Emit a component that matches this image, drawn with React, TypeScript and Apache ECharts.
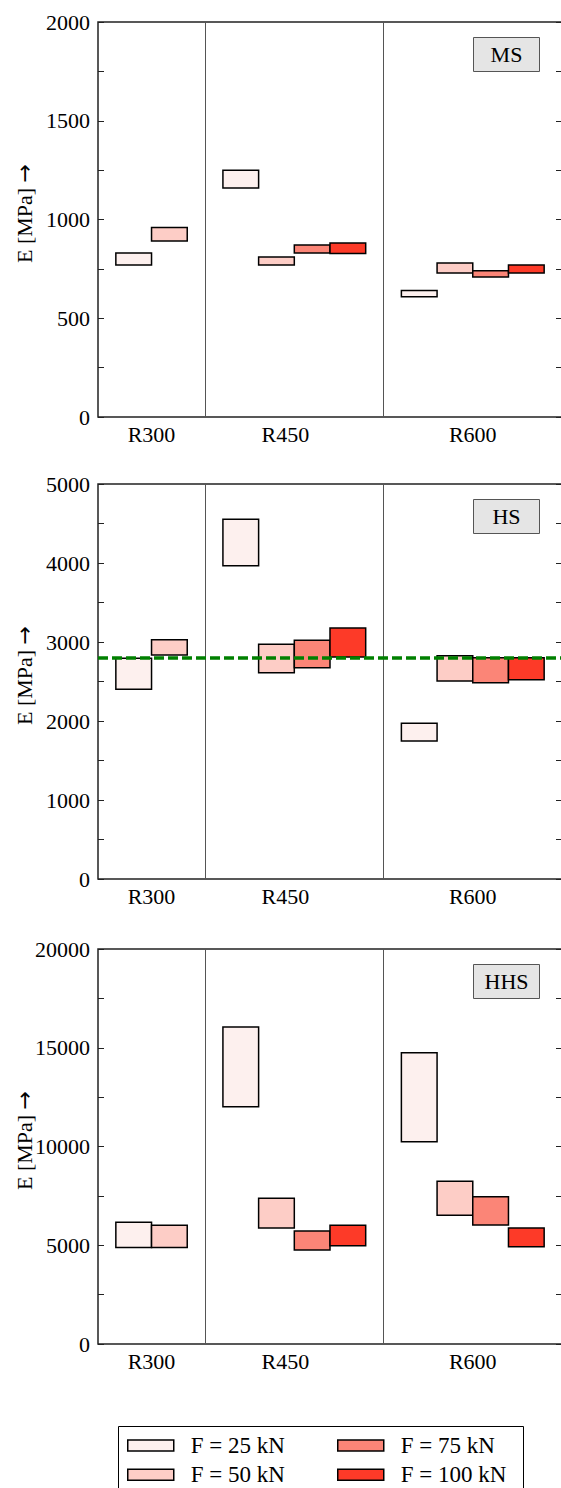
import React, { useEffect, useRef } from 'react';
import * as echarts from 'echarts';

// ---------- data ----------
const categories = ['R300', 'R450', 'R600'];
const forceLabels = ['F = 25 kN', 'F = 50 kN', 'F = 75 kN', 'F = 100 kN'];
const panelNames = ['MS', 'HS', 'HHS'];
const yAxisTitle = 'E [MPa]';
const yMaxValues = [2000, 5000, 20000];
const yLabelSteps = [500, 1000, 5000];
const hsReference = 2800;

// MS (low / high per category R300, R450, R600)
const msLow25 = [770, 1160, 609];
const msHigh25 = [830, 1250, 641];
const msLow50 = [891, 770, 729];
const msHigh50 = [960, 810, 780];
const msLow75 = [null, 830, 709];
const msHigh75 = [null, 871, 741];
const msLow100 = [null, 828, 729];
const msHigh100 = [null, 881, 770];

// HS
const hsLow25 = [2401, 3966, 1747];
const hsHigh25 = [2793, 4553, 1971];
const hsLow50 = [2835, 2612, 2506];
const hsHigh50 = [3029, 2971, 2827];
const hsLow75 = [null, 2675, 2485];
const hsHigh75 = [null, 3021, 2802];
const hsLow100 = [null, 2810, 2523];
const hsHigh100 = [null, 3177, 2802];

// HHS
const hhsLow25 = [4880, 12015, 10243];
const hhsHigh25 = [6161, 16050, 14750];
const hhsLow50 = [4880, 5873, 6515];
const hhsHigh50 = [6009, 7375, 8237];
const hhsLow75 = [null, 4759, 6025];
const hhsHigh75 = [null, 5721, 7459];
const hhsLow100 = [null, 4978, 4927];
const hhsHigh100 = [null, 6009, 5873];

const panelLows = [
  [msLow25, msLow50, msLow75, msLow100],
  [hsLow25, hsLow50, hsLow75, hsLow100],
  [hhsLow25, hhsLow50, hhsLow75, hhsLow100],
];
const panelHighs = [
  [msHigh25, msHigh50, msHigh75, msHigh100],
  [hsHigh25, hsHigh50, hsHigh75, hsHigh100],
  [hhsHigh25, hhsHigh50, hhsHigh75, hhsHigh100],
];

// ---------- layout ----------
const forceColors = ['#fdf0ee', '#fdcdc6', '#fb8577', '#fd3a28'];
const groupStart = [0.5, 3.5, 8.5];
const categoryTickPos = [1.5, 5.25, 10.5];
const separators = [3, 8];
const xMax = 13;
const FONT = '"Liberation Serif", "DejaVu Serif", serif';
const gridLeft = 98;
const gridWidth = 464;
const gridTops = [22, 484, 949];
const gridHeight = 395;

export default function App() {
  const ref = useRef<HTMLDivElement>(null);

  useEffect(() => {
    document.body.style.margin = '0';
    if (!ref.current) return;
    const chart = echarts.init(ref.current, null, { renderer: 'svg' });

    const grids = gridTops.map((t) => ({
      left: gridLeft,
      top: t,
      width: gridWidth,
      height: gridHeight,
      containLabel: false,
      outerBoundsMode: 'none',
      show: true,
      borderColor: '#222',
      borderWidth: 1.5,
      backgroundColor: 'transparent',
    }));

    const xAxes = gridTops.map((_, p) => ({
      type: 'value',
      gridIndex: p,
      min: 0,
      max: xMax,
      interval: 0.25,
      axisLine: { show: false },
      axisTick: { show: false },
      splitLine: { show: false },
      axisLabel: {
        margin: 6,
        fontFamily: FONT,
        fontSize: 22,
        color: '#000',
        showMinLabel: true,
        showMaxLabel: true,
        formatter: (v: number) => {
          const i = categoryTickPos.findIndex((t) => Math.abs(t - v) < 1e-6);
          return i >= 0 ? categories[i] : '';
        },
      },
    }));

    const yAxes: any[] = [];
    gridTops.forEach((_, p) => {
      const common = {
        type: 'value',
        gridIndex: p,
        min: 0,
        max: yMaxValues[p],
        interval: yLabelSteps[p],
        axisLine: { show: false },
        splitLine: { show: false },
        axisTick: { show: true, inside: true, length: 6, lineStyle: { color: '#222', width: 1 } },
        minorTick: { show: true, splitNumber: 2, length: 6, lineStyle: { color: '#222', width: 1 } },
        minorSplitLine: { show: false },
      };
      yAxes.push({
        ...common,
        position: 'left',
        axisLabel: {
          margin: 8,
          fontFamily: FONT,
          fontSize: 22,
          color: '#000',
          formatter: (v: number) => String(v),
        },
      });
      yAxes.push({
        ...common,
        position: 'right',
        axisLabel: { show: false },
      });
    });

    const series: any[] = [];
    gridTops.forEach((_, p) => {
      forceLabels.forEach((name, f) => {
        const lows = panelLows[p][f];
        const highs = panelHighs[p][f];
        const data: number[][] = [];
        categories.forEach((_, g) => {
          if (lows[g] != null && highs[g] != null) {
            data.push([groupStart[g] + f, lows[g] as number, highs[g] as number]);
          }
        });
        const color = forceColors[f];
        const s: any = {
          type: 'custom',
          name,
          xAxisIndex: p,
          yAxisIndex: p * 2,
          itemStyle: { color, borderColor: '#000', borderWidth: 1.5 },
          encode: { x: 0, y: [1, 2] },
          data,
          z: 3,
          renderItem: (params: any, api: any) => {
            const x0 = api.value(0);
            const lo = api.value(1);
            const hi = api.value(2);
            const a = api.coord([x0, hi]);
            const b = api.coord([x0 + 1, lo]);
            return {
              type: 'rect',
              shape: { x: a[0], y: a[1], width: b[0] - a[0], height: b[1] - a[1] },
              style: { fill: color, stroke: '#000', lineWidth: 1.5 },
            };
          },
        };
        if (f === 0) {
          s.markLine = {
            silent: true,
            symbol: 'none',
            animation: false,
            label: { show: false },
            lineStyle: { color: '#555', width: 1, type: 'solid' },
            data: separators.map((x) => ({ xAxis: x })),
          };
        }
        if (p === 1 && f === 3) {
          s.markLine = {
            silent: true,
            symbol: 'none',
            animation: false,
            z: 10,
            label: { show: false },
            lineStyle: { color: '#008000', width: 3.5, type: [10, 4] },
            data: [{ yAxis: hsReference }],
          };
        }
        series.push(s);
      });
    });

    const graphic: any[] = [];
    gridTops.forEach((t, p) => {
      graphic.push({
        type: 'group',
        left: 473,
        top: t + 15,
        children: [
          {
            type: 'rect',
            shape: { x: 0, y: 0, width: 66, height: 34 },
            style: { fill: '#e5e5e5', stroke: '#555', lineWidth: 1 },
          },
          {
            type: 'text',
            x: 33,
            y: 17,
            style: {
              text: panelNames[p],
              fontFamily: FONT,
              fontSize: 22,
              fill: '#000',
              align: 'center',
              verticalAlign: 'middle',
            },
          },
        ],
      });
      graphic.push({
        type: 'text',
        x: 24,
        y: t + gridHeight / 2 - 6,
        rotation: Math.PI / 2,
        style: {
          text: '{t|' + yAxisTitle + '} {a|→}',
          fontFamily: FONT,
          fontSize: 22,
          fill: '#000',
          align: 'center',
          verticalAlign: 'middle',
          rich: {
            t: { fontFamily: FONT, fontSize: 22, fill: '#000' },
            a: { fontFamily: '"DejaVu Sans", sans-serif', fontSize: 22, fill: '#000' },
          },
        },
      });
    });
    graphic.push({
      type: 'rect',
      z: 0,
      shape: { x: 118.5, y: 1426.5, width: 405, height: 80 },
      style: { fill: 'none', stroke: '#000', lineWidth: 1 },
    });

    const legendCommon = {
      orient: 'vertical',
      top: 1434,
      padding: 0,
      itemWidth: 46,
      itemHeight: 11,
      itemGap: 6.3,
      icon: 'rect',
      selectedMode: false,
      itemStyle: { borderColor: '#000', borderWidth: 1.5 },
      textStyle: {
        fontFamily: FONT,
        fontSize: 23,
        lineHeight: 22,
        color: '#000',
        padding: [0, 0, 0, 12],
      },
    };

    chart.setOption({
      animation: false,
      backgroundColor: '#fff',
      grid: grids,
      xAxis: xAxes,
      yAxis: yAxes,
      series,
      graphic,
      legend: [
        { ...legendCommon, left: 127, data: [forceLabels[0], forceLabels[1]] },
        { ...legendCommon, left: 337, data: [forceLabels[2], forceLabels[3]] },
      ],
    });

    return () => chart.dispose();
  }, []);

  return <div ref={ref} style={{ width: 561, height: 1488 }} />;
}
